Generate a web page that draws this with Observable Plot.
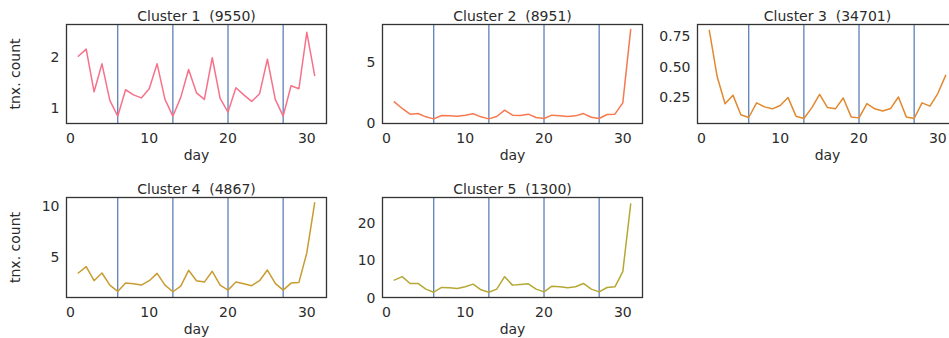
<!DOCTYPE html>
<html>
<head>
<meta charset="utf-8">
<script src="https://cdn.jsdelivr.net/npm/d3@7"></script>
<script src="https://cdn.jsdelivr.net/npm/@observablehq/plot@0.6"></script>
<style>
  html, body { margin: 0; padding: 0; background: #fff; overflow: hidden; }
  #fig { position: relative; width: 949px; height: 338px; overflow: hidden; }
  #fig > svg { position: absolute; }
</style>
</head>
<body>
<div id="fig"></div>
<script>
// Day of month on the x axis
const days = [1, 2, 3, 4, 5, 6, 7, 8, 9, 10, 11, 12, 13, 14, 15, 16, 17, 18, 19, 20,
              21, 22, 23, 24, 25, 26, 27, 28, 29, 30, 31];

// Mean transaction count per day, one array per customer cluster
const cluster1 = [2.03, 2.17, 1.33, 1.88, 1.16, 0.85, 1.37, 1.27, 1.21, 1.39, 1.88, 1.18, 0.85, 1.22, 1.77, 1.31,
                  1.18, 2.00, 1.20, 0.93, 1.41, 1.27, 1.14, 1.29, 1.97, 1.18, 0.85, 1.45, 1.39, 2.50, 1.65];
const cluster2 = [1.79, 1.24, 0.77, 0.82, 0.55, 0.38, 0.66, 0.63, 0.60, 0.69, 0.80, 0.55, 0.38, 0.58, 1.10, 0.69,
                  0.66, 0.77, 0.49, 0.41, 0.69, 0.63, 0.58, 0.63, 0.82, 0.52, 0.41, 0.74, 0.77, 1.70, 7.75];
const cluster3 = [0.80, 0.42, 0.20, 0.27, 0.11, 0.087, 0.207, 0.174, 0.158, 0.185, 0.25, 0.098, 0.079, 0.166, 0.277, 0.168,
                  0.158, 0.247, 0.092, 0.084, 0.201, 0.158, 0.141, 0.16, 0.255, 0.092, 0.079, 0.207, 0.18, 0.283, 0.432];
const cluster4 = [3.43, 4.07, 2.67, 3.43, 2.23, 1.60, 2.43, 2.37, 2.23, 2.67, 3.40, 2.23, 1.57, 2.13, 3.70, 2.67,
                  2.53, 3.60, 2.23, 1.73, 2.53, 2.37, 2.17, 2.67, 3.73, 2.40, 1.73, 2.43, 2.50, 5.43, 10.4];
const cluster5 = [4.86, 5.77, 3.96, 3.96, 2.43, 1.62, 2.88, 2.79, 2.61, 3.06, 3.78, 2.25, 1.62, 2.43, 5.77, 3.51,
                  3.69, 3.87, 2.43, 1.71, 3.24, 3.06, 2.79, 3.06, 3.96, 2.43, 1.71, 2.88, 3.06, 7.10, 25.2];

const clusterNames = ["Cluster 1  (9550)", "Cluster 2  (8951)", "Cluster 3  (34701)", "Cluster 4  (4867)", "Cluster 5  (1300)"];
const clusterColors = ["#f7718a", "#f7794f", "#e2892f", "#c99c32", "#b5a834"];

// Week boundaries marked with vertical rules
const weekBreaks = [6, 13, 20, 27];
const xTicks = [0, 10, 20, 30];
const yTicks = [[1, 2], [0, 5], [0.25, 0.5, 0.75], [5, 10], [0, 10, 20]];
const yDomains = [[0.706, 2.654], [0.0, 8.17], [0.038, 0.848], [1.0, 10.93], [0.2, 26.95]];

const series = [cluster1, cluster2, cluster3, cluster4, cluster5];

// grid placement: [left, top] of each panel's svg, frame sits 66px / 24px inside
const slots = [[0, 0], [316, 0], [631, 0], [0, 173], [316, 173]];

const fig = document.getElementById("fig");
const ink = "#2b2b2b";

series.forEach((values, i) => {
  const rows = days.map((d, j) => ({day: d, value: values[j]}));
  const [left, top] = slots[i];
  const firstCol = i === 0 || i === 3;
  const frameH = top === 0 ? 99 : 100;
  const H = 165;
  const chart = Plot.plot({
    width: 330,
    height: H,
    marginLeft: 66,
    marginRight: 4,
    marginTop: 24,
    marginBottom: H - 24 - frameH,
    style: {fontFamily: "DejaVu Sans, sans-serif", fontSize: "14px", color: ink, background: "transparent"},
    x: {
      domain: [-0.5, 32.5],
      ticks: xTicks,
      tickSize: 0,
      tickPadding: 10,
      label: "day",
      labelAnchor: "center",
      labelArrow: "none",
      labelOffset: 36
    },
    y: {
      domain: yDomains[i],
      ticks: yTicks[i],
      tickSize: 0,
      tickPadding: 7,
      tickFormat: i === 2 ? d3.format(".2f") : d3.format("d"),
      label: firstCol ? "tnx. count" : null,
      labelAnchor: "center",
      labelArrow: "none",
      labelOffset: 56
    },
    marks: [
      Plot.ruleX(weekBreaks, {stroke: "#4c72b0", strokeWidth: 1.3, strokeOpacity: 0.9}),
      Plot.line(rows, {x: "day", y: "value", stroke: clusterColors[i], strokeWidth: 1.5}),
      Plot.frame({stroke: "#333", strokeWidth: 1.3}),
      Plot.text([clusterNames[i]], {
        frameAnchor: "top",
        lineAnchor: "bottom",
        dy: -4,
        fontSize: 14,
        fill: ink,
        text: d => d
      })
    ]
  });
  chart.style.left = left + "px";
  chart.style.top = top + "px";
  fig.appendChild(chart);
});
</script>
</body>
</html>
